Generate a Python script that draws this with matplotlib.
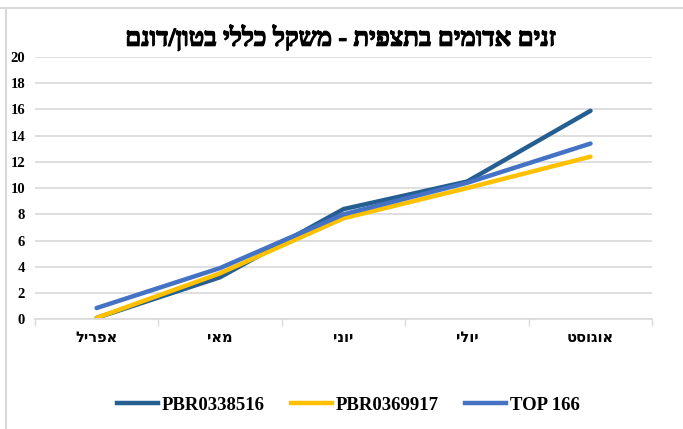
import matplotlib.pyplot as plt
import matplotlib.patheffects as pe
from matplotlib.lines import Line2D

# --- נתונים ---
months = ['אפריל', 'מאי', 'יוני', 'יולי', 'אוגוסט']
pbr0338516 = [0.1, 3.2, 8.4, 10.5, 15.9]
pbr0369917 = [0.1, 3.5, 7.7, 10.0, 12.4]
top166 = [0.85, 3.9, 8.0, 10.4, 13.4]
series_names = ['PBR0338516', 'PBR0369917', 'TOP 166']
title = 'זנים אדומים בתצפית - משקל כללי בטון/דונם'


def rtl(s):
    # matplotlib has no bidi, so flip Hebrew text by hand
    return s[::-1]


fig = plt.figure(figsize=(6.83, 4.29), dpi=100)
ax = fig.add_axes([0.051, 0.256, 0.904, 0.611])

x = range(len(months))
colors = ['#255E91', '#FFC000', '#4472C4']
for vals, c, name in zip([pbr0338516, pbr0369917, top166], colors, series_names):
    ax.plot(x, vals, color=c, linewidth=3.2, solid_capstyle='round', label=name)

ax.set_xlim(-0.5, len(months) - 0.5)
ax.set_ylim(0, 20)
ax.set_yticks(range(0, 21, 2))
ax.set_yticklabels([str(v) for v in range(0, 21, 2)],
                   fontfamily='Liberation Serif', fontweight='bold', fontsize=10.5)
ax.set_xticks(list(x))
ax.set_xticklabels([rtl(m) for m in months], fontfamily='DejaVu Sans',
                   fontweight='bold', fontsize=10.5)
ax.set_xticks([i - 0.5 for i in range(len(months) + 1)], minor=True)
ax.tick_params(axis='x', which='major', length=0, pad=8)
ax.tick_params(axis='x', which='minor', length=5, color='#D9D9D9', width=1)
ax.tick_params(axis='y', length=0, pad=7)

ax.grid(axis='y', color='#D9D9D9', linewidth=1.2)
ax.set_axisbelow(True)
for s in ['top', 'right', 'left']:
    ax.spines[s].set_visible(False)
ax.spines['bottom'].set_color('#D9D9D9')
ax.spines['bottom'].set_linewidth(1.2)

fig.text(0.5, 0.912, rtl(title), ha='center', va='center',
         fontfamily='Liberation Serif', fontweight='bold', fontsize=18.5,
         path_effects=[pe.withStroke(linewidth=0.9, foreground='black')])

handles = [Line2D([], [], color=c, linewidth=3.2) for c in colors]
leg = fig.legend(handles, series_names, loc='center', bbox_to_anchor=(0.51, 0.055),
                 ncol=3, frameon=False, handlelength=2.2, handletextpad=0.2,
                 columnspacing=1.4,
                 prop={'family': 'Liberation Serif', 'weight': 'bold', 'size': 13.5})

# chart frame: only the top and left edges show
fig.add_artist(Line2D([0, 1], [1 - 8 / 429] * 2, color='#D9D9D9', linewidth=1.5))
fig.add_artist(Line2D([6 / 683] * 2, [0, 1 - 8 / 429], color='#D9D9D9', linewidth=1.5))

fig.savefig('out.png', dpi=100)
